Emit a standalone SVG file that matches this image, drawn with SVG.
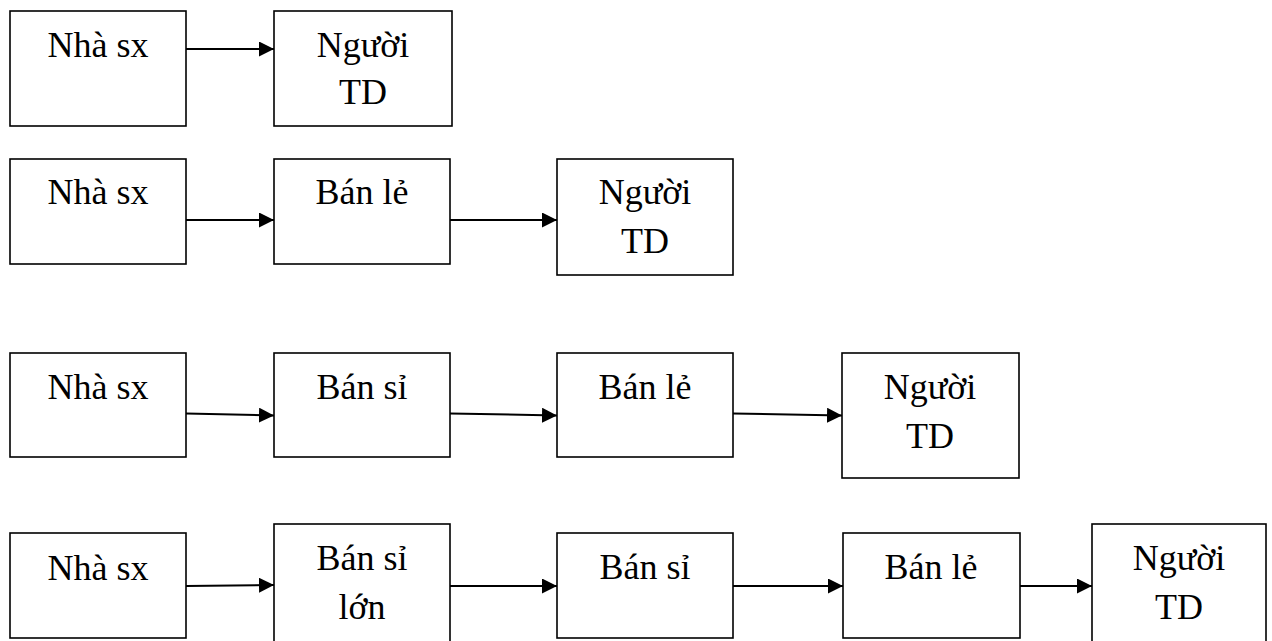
<svg xmlns="http://www.w3.org/2000/svg" width="1272" height="641" viewBox="0 0 1272 641">
<style>
.box{fill:#fff;stroke:#000;stroke-width:1.6}
.t{font-family:'Liberation Serif','Times New Roman',Tinos,'DejaVu Serif',serif;font-size:36px;fill:#000;text-anchor:middle}
.c{fill:none;stroke:#000;stroke-width:2}
</style>
<defs>
<marker id="ah" markerUnits="userSpaceOnUse" markerWidth="16" markerHeight="15" refX="15" refY="7.5" orient="auto">
<path d="M0,0 L15,7.5 L0,15 Z" fill="#000"/>
</marker>
</defs>
<rect width="1272" height="641" fill="#fff"/>
<g id="connectors">
<line class="c" x1="186" y1="49" x2="274" y2="49" marker-end="url(#ah)"/>
<line class="c" x1="186" y1="220" x2="274" y2="220" marker-end="url(#ah)"/>
<line class="c" x1="450" y1="220" x2="557" y2="220" marker-end="url(#ah)"/>
<line class="c" x1="186" y1="413.5" x2="274" y2="415.5" marker-end="url(#ah)"/>
<line class="c" x1="450" y1="413.5" x2="557" y2="415.5" marker-end="url(#ah)"/>
<line class="c" x1="733" y1="413.5" x2="842" y2="415.5" marker-end="url(#ah)"/>
<line class="c" x1="186" y1="586" x2="274" y2="585" marker-end="url(#ah)"/>
<line class="c" x1="450" y1="586" x2="557" y2="586" marker-end="url(#ah)"/>
<line class="c" x1="733" y1="586" x2="843" y2="586" marker-end="url(#ah)"/>
<line class="c" x1="1020" y1="586" x2="1092" y2="586" marker-end="url(#ah)"/>
</g>
<g id="r1n1"><rect class="box" x="10" y="11" width="176" height="115"/><text class="t" x="98" y="57">Nhà sx</text></g>
<g id="r1n2"><rect class="box" x="274" y="11" width="178" height="115"/><text class="t" x="363" y="57">Người</text><text class="t" x="363" y="104">TD</text></g>
<g id="r2n1"><rect class="box" x="10" y="159" width="176" height="105"/><text class="t" x="98" y="204">Nhà sx</text></g>
<g id="r2n2"><rect class="box" x="274" y="159" width="176" height="105"/><text class="t" x="362" y="204">Bán lẻ</text></g>
<g id="r2n3"><rect class="box" x="557" y="159" width="176" height="116"/><text class="t" x="645" y="204">Người</text><text class="t" x="645" y="253">TD</text></g>
<g id="r3n1"><rect class="box" x="10" y="353" width="176" height="104"/><text class="t" x="98" y="399">Nhà sx</text></g>
<g id="r3n2"><rect class="box" x="274" y="353" width="176" height="104"/><text class="t" x="362" y="399">Bán sỉ</text></g>
<g id="r3n3"><rect class="box" x="557" y="353" width="176" height="104"/><text class="t" x="645" y="399">Bán lẻ</text></g>
<g id="r3n4"><rect class="box" x="842" y="353" width="177" height="125"/><text class="t" x="930" y="399">Người</text><text class="t" x="930" y="448">TD</text></g>
<g id="r4n1"><rect class="box" x="10" y="533" width="176" height="105"/><text class="t" x="98" y="580">Nhà sx</text></g>
<g id="r4n2"><rect class="box" x="274" y="524" width="176" height="130"/><text class="t" x="362" y="570">Bán sỉ</text><text class="t" x="362" y="619">lớn</text></g>
<g id="r4n3"><rect class="box" x="557" y="533" width="176" height="105"/><text class="t" x="645" y="579">Bán sỉ</text></g>
<g id="r4n4"><rect class="box" x="843" y="533" width="177" height="105"/><text class="t" x="931" y="579">Bán lẻ</text></g>
<g id="r4n5"><rect class="box" x="1092" y="524" width="174" height="130"/><text class="t" x="1179" y="570">Người</text><text class="t" x="1179" y="619">TD</text></g>
</svg>
